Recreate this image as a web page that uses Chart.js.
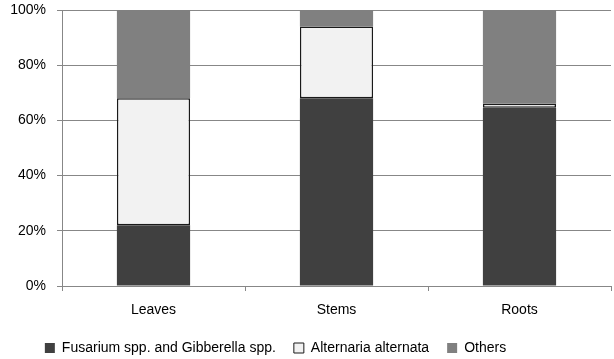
<!DOCTYPE html>
<html>
<head>
<meta charset="utf-8">
<script src="https://cdn.jsdelivr.net/npm/chart.js@4"></script>
<style>
html,body{margin:0;padding:0;background:#fff;}
#wrap{width:614px;height:359px;position:relative;}
</style>
</head>
<body>
<div id="wrap"><canvas id="c" width="614" height="359"></canvas></div>
<script>
const categories = ["Leaves", "Stems", "Roots"];
const fusarium = [22, 68, 64.6];
const alternaria = [46, 26, 1.4];
const others = [32, 6, 34];
const seriesNames = ["Fusarium spp. and Gibberella spp.", "Alternaria alternata", "Others"];
const yTicks = [0, 20, 40, 60, 80, 100];

const FONT = "'Liberation Sans', Arial, sans-serif";
const gridColor = "#878787";

const shiftLegend = {
  id: "shiftLegend",
  afterLayout(chart) {
    if (chart.legend) { chart.legend.left -= 30; chart.legend.right -= 30; }
  }
};

new Chart(document.getElementById("c"), {
  type: "bar",
  data: {
    labels: categories,
    datasets: [
      { label: seriesNames[0], data: fusarium, backgroundColor: "#404040", borderWidth: 0, barPercentage: 0.4, categoryPercentage: 1 },
      { label: seriesNames[1], data: alternaria, backgroundColor: "#f2f2f2", borderColor: "#1a1a1a", borderWidth: 1.5, borderSkipped: false, barPercentage: 0.4, categoryPercentage: 1 },
      { label: seriesNames[2], data: others, backgroundColor: "#808080", borderWidth: 0, barPercentage: 0.4, categoryPercentage: 1 }
    ]
  },
  plugins: [shiftLegend],
  options: {
    responsive: false,
    animation: false,
    devicePixelRatio: 1,
    layout: { padding: { top: 10, right: 3, left: 0, bottom: -6 } },
    plugins: {
      tooltip: { enabled: false },
      legend: {
        position: "bottom",
        labels: {
          font: { family: FONT, size: 14 },
          color: "#000",
          boxWidth: 10,
          boxHeight: 10,
          padding: 18,
          generateLabels(chart) {
            return chart.data.datasets.map((ds, i) => ({
              text: ds.label,
              fillStyle: ds.backgroundColor,
              strokeStyle: i === 1 ? "#1a1a1a" : ds.backgroundColor,
              lineWidth: i === 1 ? 1 : 0,
              datasetIndex: i,
              hidden: false
            }));
          }
        }
      }
    },
    scales: {
      x: {
        stacked: true,
        offset: true,
        grid: { display: true, drawOnChartArea: false, offset: true, color: gridColor, tickLength: 5 },
        border: { display: true, color: gridColor, width: 1 },
        ticks: { font: { family: FONT, size: 14 }, color: "#000", padding: 11 },
        afterFit(scale) { scale.height = 37; scale.paddingLeft = 0; scale.paddingRight = 0; }
      },
      y: {
        stacked: true,
        min: 0,
        max: 100,
        afterBuildTicks(scale) { scale.ticks = yTicks.map(v => ({ value: v })); },
        grid: { color: gridColor, tickLength: 5 },
        border: { display: true, color: gridColor, width: 1 },
        ticks: { font: { family: FONT, size: 14 }, color: "#000", padding: 11, callback: v => v + "%" },
        afterFit(scale) { scale.width = 62; scale.paddingTop = 0; scale.paddingBottom = 0; }
      }
    }
  }
});
</script>
</body>
</html>
